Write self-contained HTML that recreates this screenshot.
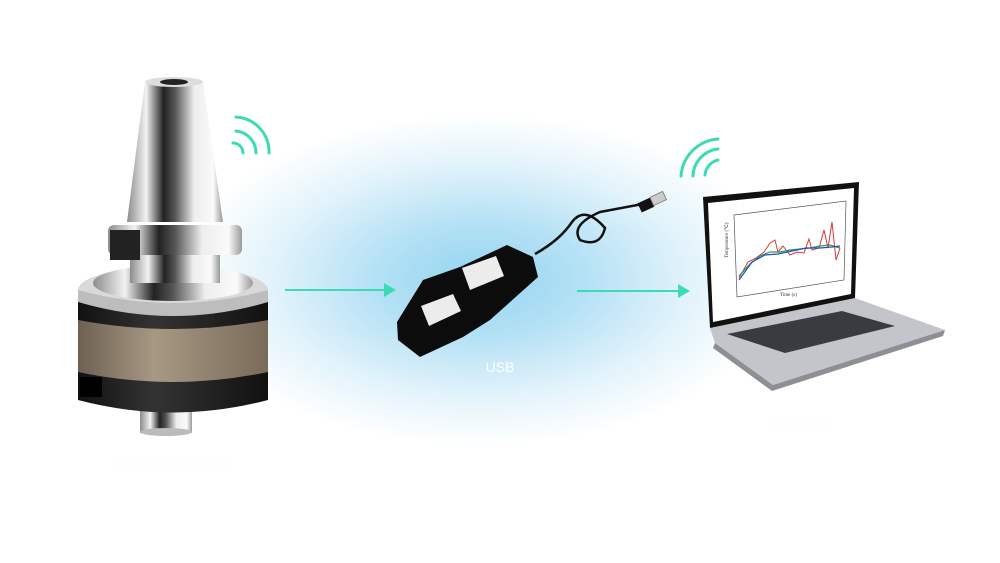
<!DOCTYPE html>
<html><head><meta charset="utf-8"><style>
html,body{margin:0;padding:0;background:#fff;}
svg{display:block}
</style></head><body>
<svg width="1000" height="563" viewBox="0 0 1000 563" xmlns="http://www.w3.org/2000/svg">
<defs>
<radialGradient id="glow" cx="480" cy="280" r="300" gradientUnits="userSpaceOnUse" gradientTransform="translate(480 280) scale(1 0.55) translate(-480 -280)">
<stop offset="0" stop-color="#93d4f1"/><stop offset="0.35" stop-color="#b5e1f5"/><stop offset="0.7" stop-color="#e2f3fb"/><stop offset="1" stop-color="#ffffff"/></radialGradient>
<linearGradient id="metal" x1="0" x2="1"><stop offset="0" stop-color="#8c8c8c"/><stop offset="0.2" stop-color="#f2f2f2"/><stop offset="0.38" stop-color="#222"/><stop offset="0.5" stop-color="#555"/><stop offset="0.7" stop-color="#eee"/><stop offset="0.9" stop-color="#fafafa"/><stop offset="1" stop-color="#999"/></linearGradient>
<linearGradient id="band" x1="0" x2="1"><stop offset="0" stop-color="#6e6152"/><stop offset="0.4" stop-color="#a79883"/><stop offset="1" stop-color="#7a6b59"/></linearGradient>
<linearGradient id="blk" x1="0" x2="1"><stop offset="0" stop-color="#111"/><stop offset="0.4" stop-color="#333"/><stop offset="1" stop-color="#111"/></linearGradient>
</defs>
<rect width="1000" height="563" fill="#fff"/>
<rect width="1000" height="563" fill="url(#glow)"/>
<rect x="140" y="405" width="52" height="28" fill="url(#metal)"/>
<ellipse cx="166" cy="432" rx="26" ry="4" fill="#bbb"/>
<path d="M78 300 L78 400 Q173 425 268 400 L268 300 Z" fill="url(#blk)"/>
<path d="M78 320 L78 372 Q173 392 268 372 L268 320 Q173 338 78 320 Z" fill="url(#band)"/>
<rect x="80" y="377" width="22" height="20" fill="#000"/>
<ellipse cx="173" cy="290" rx="95" ry="24" fill="#d9d9d9"/>
<path d="M78 290 L78 302 Q173 330 268 302 L268 290 Q173 316 78 290Z" fill="#bdbdbd"/>
<ellipse cx="173" cy="283" rx="80" ry="18" fill="url(#metal)"/>
<rect x="130" y="255" width="90" height="28" fill="url(#metal)"/>
<rect x="108" y="225" width="134" height="30" rx="6" fill="url(#metal)"/>
<rect x="110" y="230" width="30" height="30" fill="#222"/>
<path d="M127 222 L145 82 L203 82 L223 222 Z" fill="url(#metal)"/>
<ellipse cx="174" cy="82" rx="29" ry="5" fill="#ddd"/>
<ellipse cx="174" cy="82" rx="14" ry="3" fill="#222"/>
<g fill="none" stroke="#3ddbb3" stroke-width="3" stroke-linecap="round">
<path d="M233 143 A10 10 0 0 1 243 153"/>
<path d="M236 131 A22 22 0 0 1 256 153"/>
<path d="M236 117 A35 35 0 0 1 269 153"/>
<path d="M718 160 A17 17 0 0 0 705 175"/>
<path d="M718 149 A28 28 0 0 0 693 176"/>
<path d="M718 139 A40 40 0 0 0 681 176"/>
</g>
<g stroke="#3ddbb3" stroke-width="2"><line x1="285" y1="290" x2="386" y2="290"/><line x1="577" y1="291" x2="680" y2="291"/></g>
<polygon points="384,283 396,290 384,297" fill="#3ddbb3"/>
<polygon points="678,284 690,291 678,298" fill="#3ddbb3"/>
<path d="M535 254 Q560 240 572 222 Q585 205 605 228 Q600 248 580 240 Q570 225 600 212 L648 203" fill="none" stroke="#111" stroke-width="2.5"/>
<rect x="639" y="200" width="14" height="10" fill="#111" transform="rotate(-25 646 205)"/>
<rect x="651" y="194" width="14" height="9" fill="#ccc" stroke="#888" transform="rotate(-25 658 198)"/>
<polygon points="397,322 423,280 460,267 507,245 533,257 538,277 490,320 463,337 420,357 398,340" fill="#0c0c0c"/>
<polygon points="421,306 453,294 461,311 429,326" fill="#ececec"/>
<polygon points="462,268 496,256 504,276 470,290" fill="#ececec"/>
<text x="500" y="372" text-anchor="middle" font-family="Liberation Sans, sans-serif" font-size="14" fill="#fff">USB</text>
<polygon points="710,328 855,298 945,330 773,385 715,343" fill="#c3c5ca"/>
<polygon points="715,343 773,385 945,330 943,336 772,391 713,348" fill="#8d8f95"/>
<polygon points="727,334 842,311 895,326 785,353" fill="#3a3b40"/>
<polygon points="703,197 859,182 855,298 710,328" fill="#111"/>
<polygon points="708,203 854,188 851,294 713,322" fill="#fff"/>
<polygon points="734,215 846,201 844,280 737,297" fill="none" stroke="#555" stroke-width="0.7"/>
<path d="M739 278 L748 262 L756 258 L764 252 L770 243 L775 240 L778 252 L783 246 L790 255 L797 252 L804 253 L809 239 L812 250 L819 248 L824 230 L828 248 L832 222 L836 260 L840 248" fill="none" stroke="#e03535" stroke-width="1"/>
<path d="M739 276 L750 264 L760 256 L770 252 L780 252 L790 250 L800 249 L810 248 L820 246 L830 245 L840 248" fill="none" stroke="#2a9a55" stroke-width="1.2"/>
<path d="M739 280 L752 262 L765 255 L778 254 L792 251 L806 248 L820 248 L832 247 L840 246" fill="none" stroke="#2050c0" stroke-width="1.2"/>
<text x="728" y="258" font-family="Liberation Serif, serif" font-size="5" fill="#333" transform="rotate(-90 728 258)">Temperature (℃)</text>
<text x="780" y="296" font-family="Liberation Serif, serif" font-size="5" fill="#333">Time (s)</text>
<text x="170" y="470" text-anchor="middle" font-family="Liberation Sans, Noto Sans CJK SC, sans-serif" font-size="15" fill="#fdfdfd">切削温度测量刀柄</text>
<text x="800" y="430" text-anchor="middle" font-family="Liberation Sans, Noto Sans CJK SC, sans-serif" font-size="14" fill="#fdfdfd">数据分析</text>
</svg>
</body></html>
